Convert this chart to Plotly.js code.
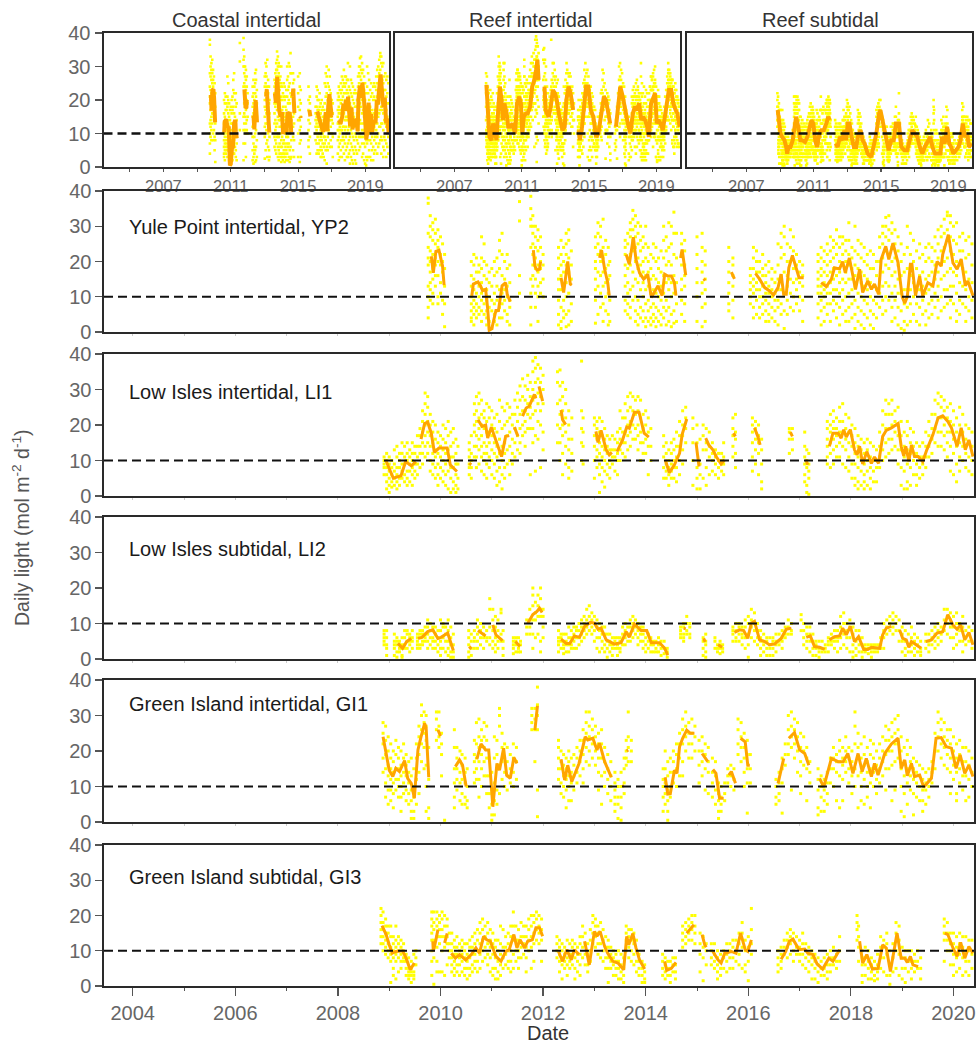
<!DOCTYPE html>
<html><head><meta charset="utf-8">
<script src="https://cdn.plot.ly/plotly-3.0.1.min.js"></script>
<style>html,body{margin:0;padding:0;background:#fff}</style></head>
<body><div id="chart" style="width:977px;height:1048px"></div>
<script>
// Each dot column: [decimal year, daily light values...]
const yp2Dots=[[2009.76,38,36.5,28,24,21,19,13,10,7,4],[2009.8,33,30,27,23,20,17,14,12,9],[2009.85,31,29,26,22,18,15,11,8],[2009.9,32,28,25,21,19,16,13],[2009.95,29,26,24,20,16,10,8],[2010.0,27,22,19,14,11],[2010.04,25,20,17,9,5],[2010.08,22,18,13,8,1.5],
[2010.6,20,16,13,10,8,6,4,3],[2010.65,22,19,15,12,9,7,5,2],[2010.7,21,17,14,11,8,6,4],[2010.75,19,17,13,10,7,5],[2010.8,27,21,18,14,11,9,6,3],[2010.85,25,20,16,12,8,5],[2010.9,19,15,12,9,6,4,2],[2010.95,17,14,10,7,3,1],[2011.0,18,13,9,6,1],[2011.05,20,16,11,8,5,3],[2011.1,21,17,13,9,6,2],[2011.15,26,23,18,12,7,4],[2011.2,28,22,16,11,8,4],[2011.25,20,15,12,9,6],[2011.3,22,18,13,10,5,3],[2011.35,19,14,9,7,2],
[2011.54,37,31.5,16,11],[2011.76,38.5,35,32,30,24,15,11,7,2],[2011.8,33,30,28,25,22,19,16,13],[2011.85,30,27,24,21,18,15,11,7],[2011.9,29,26,23,19,17,13,10,3],[2011.95,27,24,20,18,14,11],[2012.0,22,19,15,10],
[2012.3,24,21,18,15,12,9,5,2],[2012.35,26,22,19,16,12,7,3,1],[2012.4,24,20,17,13,9,6,4],[2012.45,28,25,22,19,14,10,5,1.5],[2012.5,29,26,21,17,11,6,2],[2012.55,23,19,15,8,3],
[2013.02,27,24,20,18,15,12,9,2.5],[2013.07,31,28,25,22,17,13,5],[2013.12,30,27,23,20,16,11,7],[2013.17,32,24,21,17,13,8,3],[2013.22,26,22,18,14,10,6],[2013.27,24,19,15,11,5,2],[2013.3,20,16,9,3],
[2013.6,26,24,22,19,16,13,9,6],[2013.65,28,25,21,18,14,11,8,5],[2013.7,31,29,27,22,19,12,7,4],[2013.75,34.5,32,29,26,23,17,13,9],[2013.8,33,30,27,24,20,15,10,6,3],[2013.85,31,28,25,21,18,14,9,5,2],[2013.9,30,26,23,19,16,12,7,4],[2013.95,27,24,20,17,14,10,6,3],[2014.0,30,25,21,16,12,8,4,1.5],[2014.05,24,20,17,13,9,6,3],[2014.1,22,18,15,11,7,4,2],[2014.15,25,21,16,12,8,5,3],[2014.2,24,20,15,11,7,4,1.5],[2014.25,21,18,14,10,6,3],[2014.3,23,17,13,9,5,2],[2014.35,30,26,21,16,11,7,4],[2014.4,27,23,19,14,9,6,2],[2014.45,31,24,20,15,12,7,3],[2014.5,30,25,19,14,10,5,1.5],[2014.55,34,28,22,16,11,6,2.5],[2014.6,28,21,14,8,3],
[2014.7,28,25,22,19,15,12,9,5],[2014.76,26,23,19,16,13,8,3],[2015.0,27,22,18,14,10,3],[2015.1,28,24,20,17,14,11,7,1.5],[2015.16,23,19,15,12,8,3],[2015.62,24,20,17,14,11,8,6],[2015.7,21,19,16,13,9,4],
[2016.04,18,16,14,12,10,8],[2016.1,24,21,18,15,13,11,7,4],[2016.16,23,20,17,14,12,9,5],[2016.22,20,17,15,12,10,7,4],[2016.28,22,18,16,13,10,8,5],[2016.34,19,16,14,11,9,6,3],[2016.4,20,17,13,11,8,5,3],[2016.46,18,15,12,10,7,4],[2016.52,17,14,11,9,6,3],[2016.58,25,19,15,12,9,7,2],[2016.64,28,24,21,16,12,8,5],[2016.7,30,27,22,17,11,6,1],[2016.76,25,20,16,13,9,5],[2016.82,29,24,20,15,11,7],[2016.88,27,23,18,14,10,6],[2016.94,22,19,15,12,8],[2017.0,20,17,14,10,6],[2017.06,19,16,13,9,3],
[2017.36,22,20,17,15,13,11,8,4],[2017.42,24,21,18,16,13,11,9,6,2],[2017.48,23,20,17,14,12,10,7,3],[2017.54,25,22,19,16,13,11,8,5],[2017.6,27,23,20,17,14,11,8,3],[2017.66,26,24,21,18,15,12,9,6],[2017.72,29,25,22,18,16,12,8,4],[2017.78,27,24,20,17,14,11,7,2],[2017.84,27,25,22,19,15,12,9,5],[2017.9,26,23,20,17,14,10,6,3],[2017.96,31,26,22,19,15,11,7,3],[2018.02,24,21,18,15,12,8,4],[2018.08,30,23,19,16,13,9,5,1],[2018.14,26,22,18,15,11,7,3],[2018.2,25,21,17,14,10,6,2],[2018.26,24,20,16,13,9,5,1],[2018.32,22,19,15,12,8,4],[2018.38,23,18,14,10,6,2],[2018.44,22,18,13,9,5,1],[2018.5,20,16,12,8,4],[2018.56,27,24,20,15,11,7],[2018.62,30,28,25,21,17,13,9,5],[2018.68,32.5,30,27,23,19,14,10,6],[2018.74,33,29,26,22,18,13,9],[2018.8,31,28,24,20,16,11,7,3],[2018.86,29,25,21,17,13,9,4],[2018.92,27,23,19,15,11,7,2],[2018.98,25,20,16,11,6,1],[2019.04,22,17,12,8,3,0.5],[2019.1,30,24,18,12,7,2],[2019.16,28,22,16,12,8,3],[2019.22,26,20,14,10,5],[2019.28,23,18,13,8,3],[2019.34,25,21,16,12,7,2],[2019.4,22,17,13,9,5],[2019.46,24,20,15,11,6,2],[2019.52,25,21,16,12,8,4],[2019.58,24,20,17,13,9,5],[2019.64,27,23,19,15,11,7],[2019.7,29,25,21,17,13,9,4],[2019.76,30,27,23,19,15,10,6],[2019.82,32,28,24,20,16,12,7],[2019.88,34,33,29,26,21,17,12,8],[2019.94,33,31,27,23,18,13,9,4],[2020.0,30,26,22,17,13,8],[2020.06,31,25,20,16,11,6,3],[2020.12,27,23,19,14,9,5],[2020.18,28,23,18,13,8],[2020.24,26,21,17,12,7,3],[2020.3,27,22,15,10,6],[2020.36,25,19,14,9,4]];

const li1Dots=[[2008.9,11,10,9,8,6],[2008.95,12,10,8,6,4,2],[2009.0,11,9,7,5,3,1],[2009.05,10,8,6,4,2.5],[2009.1,13,9,7,5,3],[2009.15,14,11,8,6,4,2],[2009.2,12,10,8,5,3],[2009.25,15,12,9,7,5],[2009.3,14,11,9,6,4],[2009.35,15,12,10,7,5,3],[2009.4,13,11,9,7,4],[2009.45,15,12,10,8,6,3],[2009.5,14,12,9,7,5],[2009.55,17,14,11,9,6],[2009.6,19,17,14,12,8],[2009.65,24,21,18,15,12,9],[2009.7,29,26,23,20,17,14,11],[2009.75,28,25,21,18,15,12],[2009.8,23,20,17,14,10,7],[2009.85,21,18,15,12,9,6],[2009.9,20,16,13,11,8,5],[2009.95,18,15,12,9,6,3],[2010.0,17,14,11,8,5],[2010.05,20,16,13,10,7,4],[2010.1,19,15,12,9,6,3],[2010.15,21,17,13,10,7,2],[2010.2,18,14,11,8,5,1],[2010.25,19,15,11,8,4,2],[2010.3,16,12,9,6,3,1],[2010.34,14,9,5,2],
[2010.56,15,13,11,9,8,6],[2010.6,17,12,10,8,5],[2010.66,26,23,20,18,14,11],[2010.7,28,24,21,17,14,11,8],[2010.75,29,26,22,19,16,13,9],[2010.8,27,23,20,17,14,11,7],[2010.85,24,22,19,15,12,10,6],[2010.9,26,21,18,14,12,9,5],[2010.95,25,22,18,15,11,8],[2011.0,24,20,17,13,10,6],[2011.05,22,19,15,12,9,5],[2011.1,23,18,14,11,7,3],[2011.15,27,21,16,12,8,4],[2011.2,25,19,14,10,6,2],[2011.25,24,20,15,12,8,5],[2011.3,26,21,17,13,9],[2011.35,25,22,18,14,10,6],[2011.4,23,20,16,12,9],[2011.45,27,23,19,15,11],[2011.5,29,25,21,17,13],[2011.55,31,27,23,19,15,12],[2011.6,33,28,24,20,17],[2011.65,31,27,24,21,18,14],[2011.7,34,30,26,23,19],[2011.75,32,28,25,22,19,6],[2011.8,38,35,30,27,23,19,15],[2011.85,39,36,32,28,24,17,7],[2011.9,37,33,29,26,21,16],[2011.95,36,32,28,24,20,8],[2012.0,34,30,26,18,13],
[2012.28,35,32,26,20,15],[2012.33,35.5,31,27,23,19,15,10],[2012.38,32,28,24,20,17,12,6],[2012.44,30,26,22,18,14,9],[2012.5,24,20,16,13,8,5],[2012.56,22,16,12,7],[2012.75,38,24,19,15,10],[2012.78,22,18,14,9],
[2013.0,22,20,17,14,10,5],[2013.05,21,19,16,13,11,8],[2013.1,22,18,15,12,9,6,1],[2013.15,21,17,14,11,8,4],[2013.2,19,16,13,10,7,2.5],[2013.25,17,14,12,9,6],[2013.3,16,13,10,8,5],[2013.35,17,13,11,9],[2013.4,16,13,11,7],[2013.45,18,15,12,10,6],[2013.5,24,19,16,13,10],[2013.55,22,18,15,12],[2013.6,26,22,18,15,11],[2013.65,28,24,20,17,13],[2013.7,29,25,21,18,14],[2013.75,28,24,20,16],[2013.8,27,23,19,16],[2013.85,28,24,20,17,13],[2013.9,27,22,18,15,10],[2013.95,23,19,15,12],[2014.0,24,20,16,12],[2014.05,22,18,14,6],[2014.1,19,14,10],
[2014.35,17,14,11,8,5],[2014.4,15,12,9,7,5],[2014.45,13,10,8,6,3],[2014.5,15,12,9,7,5],[2014.55,16,13,10,8,5],[2014.6,18,14,11,8,4],[2014.66,21,17,14,10,6],[2014.72,24,20,17,13,9],[2014.78,25,22,19,15],
[2014.92,22,19,15,10,3],[2015.0,20,15,8,5,2],[2015.06,16,9,6,2],[2015.12,20,17,13,5],[2015.18,19,15,13,8,3],[2015.24,18,14,11,6],[2015.3,15,12,10,7],[2015.36,13,11,9,6],[2015.42,12,10,8,5],[2015.48,12,10,9,7],[2015.52,15,11,9,6],[2015.7,22,19,17,14,11],[2015.75,23,18,16,12,8],
[2016.08,22,20,18,15,11,7],[2016.14,21,19,16,13,9],[2016.2,20,17,15,12,6],[2016.26,16,13,9,4,2],[2016.8,19,18,16,12],[2016.86,19,16,13],[2017.1,18,14,11,9,6,4],[2017.14,13,10,8,3,1],[2017.18,12,9,7,5,0.5],
[2017.54,21,19,16,14,11,9],[2017.6,23,20,18,15,12,8],[2017.66,24,21,19,16,13,9],[2017.72,22,19,17,14,11],[2017.78,25,21,18,15,11],[2017.84,26,21,18,14,9],[2017.9,23,19,16,13,8],[2017.96,22,18,15,11,7],[2018.02,20,17,14,9,5],[2018.08,19,15,12,9,5,3],[2018.14,17,14,11,8,4,2],[2018.2,16,13,10,7,3],[2018.26,15,12,9,6,4,2],[2018.32,16,13,10,7,3],[2018.38,15,11,8,5,2],[2018.44,14,10,7,4],[2018.5,13,10,8,4],[2018.56,18,14,11,8],[2018.62,24,20,16,13,10],[2018.68,27,23,19,15,11],[2018.74,26,23,19,16,12],[2018.8,27,23,20,16,13],[2018.86,24,21,18,14],[2018.92,25,20,17,13,9],[2018.98,21,17,13,8,3],[2019.04,18,14,11,7,2],[2019.1,21,17,13,9,4,2],[2019.16,19,15,12,8,3],[2019.22,18,14,10,6],[2019.28,15,12,9,6,3],[2019.34,14,11,8,5],[2019.4,15,11,9,6],[2019.46,18,14,11,8],[2019.52,21,17,14,11],[2019.58,23,19,16,12],[2019.64,27,23,19,15],[2019.7,29,26,22,18,14],[2019.76,28,25,22,18,14],[2019.82,27,24,20,17,13],[2019.88,25,22,18,15,11],[2019.94,26,21,18,14,7],[2020.0,24,20,16,12,6],[2020.06,22,18,14,9,4],[2020.12,25,20,15,11,7],[2020.18,23,18,14,10],[2020.24,20,16,12,8],[2020.3,19,15,11,7],[2020.36,18,14,10,6]];

const li2Dots=[[2008.9,8,7,6,5,4],[2008.95,8,6,4,3,1],[2009.1,7,5,4,3,1],[2009.15,6,5,4,2,0.5],[2009.2,5,4,3,2],[2009.25,6,4,3,1,0.5],[2009.3,8,6,4,3],[2009.35,8,7,5,3],[2009.4,7,6,5,4,2],[2009.45,8,6,5,3],[2009.55,7,6,5,4,3],[2009.6,8,7,6,4,3],[2009.65,8,7,5,4],[2009.7,9,7,6,5],[2009.75,11,9,7,5,3],[2009.8,10,8,6,4],[2009.85,9,8,6,5,3],[2009.9,9,7,5,3],[2009.95,8,6,4,2],[2010.0,11,8,5,3,1],[2010.05,10,9,6,3],[2010.1,9,7,5,2],[2010.15,11,8,5,3,1],[2010.2,9,6,4,2,0.5],[2010.25,7,4,2,0.5],
[2010.55,8,6,4,2,0.5],[2010.6,7,5,3,1],[2010.66,8,6,5,3],[2010.72,11,9,7,5,3],[2010.78,10,8,6,4],[2010.84,9,7,6,3],[2010.9,8,6,5],[2010.96,17,14,9,6,4],[2011.02,14,11,8,5,3],[2011.07,12,9,6,4,2],[2011.12,11,8,5,3],[2011.18,14,13,7,5],[2011.22,8,5,3,1],[2011.42,6,5,4,3,1.5],[2011.47,6,5,4,2],[2011.52,6,4,3,2],[2011.56,5,4,2],[2011.68,11,9,7],[2011.74,14,11,9,7],[2011.8,20,18,15,11,7,3],[2011.85,16,13,11,6],[2011.9,18,15,12,7],[2011.95,20,17,14,12,5,2],[2012.0,14,12,9,6],
[2012.3,8,6,5,4,2],[2012.35,7,6,5,3],[2012.4,7,5,4,3,1.5],[2012.45,7,5,4,2],[2012.5,9,6,4,2],[2012.55,8,6,4,3],[2012.6,9,7,5,3],[2012.65,9,8,6,3],[2012.7,10,8,6,4],[2012.75,11,9,7,5],[2012.8,12,10,8,6],[2012.85,14,11,9,7],[2012.9,15,12,10,8],[2012.95,13,11,9,7],[2013.0,12,10,8,5],[2013.05,11,9,6,3],[2013.1,10,8,6,2],[2013.15,9,7,5,3],[2013.2,9,7,4,2],[2013.25,7,5,3,0.5],[2013.3,7,5,4,2],[2013.35,6,4,3,1],[2013.4,6,5,3],[2013.45,6,4,3,1],[2013.5,6,5,3,2],[2013.55,9,7,4],[2013.6,10,8,6,4],[2013.65,9,7,5],[2013.7,11,9,7,5],[2013.75,12,10,8,6],[2013.8,11,9,7],[2013.85,10,8,6,4],[2013.9,9,7,5],[2013.95,9,7,5,3],[2014.0,8,6,4,2],[2014.05,7,5,3],[2014.1,6,4,2],[2014.15,5,4,2],[2014.2,5,3,2],[2014.25,6,4,2],[2014.3,5,3,1],[2014.36,5,3,1.5],[2014.42,3,2,0.5],
[2014.68,9,8,7,6],[2014.74,10,9,7,6,5],[2014.8,12,10,8,7],[2014.86,10,9,7,6],[2015.12,6,5,3,1],[2015.17,7,5,4,2,0.5],[2015.35,6,5,3],[2015.4,4,3,2],[2015.45,5,4,3,1.5],[2015.5,4,3,2],
[2015.7,9,8,7,5],[2015.76,10,8,6,5],[2015.82,10,9,7,5],[2015.88,9,7,6,4],[2015.94,11,9,6,3],[2016.0,12,10,7,4,0.5],[2016.06,14,11,9,6],[2016.12,13,10,8,5],[2016.18,10,8,6,4],[2016.24,8,6,5,3,1],[2016.3,7,5,4,2],[2016.36,6,5,3,1],[2016.42,6,4,3,1],[2016.48,6,5,3,1],[2016.54,7,5,4,2],[2016.6,7,5,4],[2016.66,8,6,5,3],[2016.72,9,7,6],[2016.78,11,9,7],[2016.84,10,8,7],
[2017.03,12.5,11,8],[2017.08,10,8,6,4],[2017.14,9,7,5,3],[2017.2,9,7,5,2],[2017.26,7,5,3,1],[2017.32,5,4,3,1],[2017.38,5,3,2,0.5],[2017.44,5,3,2],[2017.5,4,3,2],[2017.56,6,5,4,2],[2017.62,7,5,4],[2017.68,8,6,5,3],[2017.74,8,6,5,2],[2017.8,12,9,6,3],[2017.86,13,10,7,4],[2017.92,10,8,6,3],[2017.98,11,9,6,2],[2018.04,9,7,4,2,0.5],[2018.1,8,5,3,1],[2018.16,8,6,4,2],[2018.22,6,4,2,0.5],[2018.28,4,3,2],[2018.34,4,3,1.5],[2018.4,4,3,2,0.5],[2018.46,4,3,2],[2018.52,4,3,2],[2018.58,6,4,3],[2018.64,10,8,6,3],[2018.7,11,9,7],[2018.76,12,10,8],[2018.82,13,11,9,7],[2018.88,12,10,8],[2018.94,11,8,5],[2019.0,9,7,5,2],[2019.06,8,5,3,1],[2019.12,7,4,2],[2019.18,9,6,4,2],[2019.24,7,5,3,1],[2019.3,6,4,2],[2019.36,5,3,2,1],[2019.46,7,5,3],[2019.52,7,5,4,2],[2019.58,8,6,4],[2019.64,9,7,5,3],[2019.7,10,8,6,4],[2019.76,9,7,5],[2019.82,14,11,8],[2019.88,14,12,10,7],[2019.94,13,11,9,6],[2020.0,12,9,6,3],[2020.06,13,10,7,4],[2020.12,10,8,5],[2020.18,12,9,5,2],[2020.24,8,6,4],[2020.3,9,7,5],[2020.36,8,5,3]];

const gi1Dots=[[2008.88,28,25,22,18,14],[2008.93,27,23,19,15,11,7],[2008.98,24,20,16,13,9,5],[2009.03,22,18,15,12,9,6],[2009.08,20,17,14,11,8,4],[2009.13,23,19,15,12,9],[2009.18,21,18,15,12,10,7],[2009.23,20,16,13,10,7,3],[2009.28,22,18,14,11,8],[2009.33,19,16,13,9,6],[2009.38,17,14,11,8,5],[2009.43,18,13,9,6,3,1],[2009.48,15,10,7,3,1],[2009.53,22,18,12,5],[2009.58,27,24,19,14,8],[2009.63,33,30,26,22,17],[2009.68,31,28,25,21,15],[2009.72,30,27,23,16,10,3],[2009.77,21,12,4,1],[2009.92,31,29,26,23],[2009.97,31,27,24,21],[2010.02,25,22,19,13],[2010.08,0.5],[2010.27,26,21,15,11,7,4],[2010.32,21,18,15,12,9],[2010.38,20,17,14,11,6],[2010.42,19,16,12,8,5],[2010.48,18,14,11,7,5],[2010.52,15,10,6,4],
[2010.66,23,19,17,14,11],[2010.7,28,22,18,15,12],[2010.75,29,24,21,17,12,7],[2010.8,26,23,19,15,10],[2010.85,28,24,21,17,13],[2010.9,27,23,18,13,8],[2010.95,18,13,8,4],[2011.0,14,9,5,2,0.5],[2011.05,24,18,11,6,2],[2011.1,23,19,15,9,5],[2011.15,32,30,27,16,8],[2011.2,25,21,17,12],[2011.25,22,18,14,10],[2011.3,21,17,13,9],[2011.36,19,15,11],[2011.42,22,18,14,10],[2011.48,21,17,12],
[2011.78,32,30,28,26],[2011.84,32,29,26,17],[2011.89,38,33,30,26,9,1.5],
[2012.3,23,21,18,15,12],[2012.35,20,17,15,11,8],[2012.4,19,16,13,10,7],[2012.45,18,15,12,9,4],[2012.5,20,17,13,10,6],[2012.55,18,14,11,6],[2012.6,19,16,13,9],[2012.66,21,18,14,11],[2012.72,23,20,17,13],[2012.78,26,23,19,15,11],[2012.84,31,28,25,21,17],[2012.9,31,27,24,20,16],[2012.96,29,26,22,18],[2013.02,27,24,20,16],[2013.08,25,22,18,14,9],[2013.14,26,22,18,13,5],[2013.2,21,17,14,10],[2013.26,19,15,12,8],[2013.32,17,13,10,6],
[2013.4,14,11,9,7,5,3],[2013.46,12,10,7,5,1],[2013.52,14,10,7,4,0.5],[2013.58,18,15,11,8],[2013.62,23,20,18,16],[2013.66,31,24,21,17],[2013.72,23,20,17],[2014.34,15,12,10,7,3],[2014.38,20,15,11,8,5],[2014.43,17,13,9,6,3,0.5],[2014.48,18,14,10,7],[2014.54,20,17,14,11],[2014.6,22,19,15,10],[2014.66,25,22,18,13],[2014.72,29,26,22,17,13],[2014.78,31,27,24,20],[2014.84,28,25,22,18],[2014.9,29,25,22,18],[2014.96,27,24,20],
[2015.04,23,20,16,11],[2015.1,24,20,17,13],[2015.16,22,19,15,9],[2015.22,21,17,14,8],[2015.3,18,14,11,7],[2015.36,17,13,9,5],[2015.42,11,8,6,3,1],[2015.47,10,7,5,3],[2015.54,11,8,6],[2015.6,15,13,11],[2015.66,16,13,10],[2015.72,15,12,9],[2015.8,29,26,22,19],[2015.86,28,24,21,17],[2015.92,25,21,18,14,10],[2015.98,23,19,15,11,2.5],[2016.04,19,15,11],
[2016.54,12,10,7,5],[2016.6,14,11,8,6],[2016.66,18,15,11,2.5],[2016.72,22,19,16],[2016.78,30,26,22,19],[2016.84,31,27,24,21,9],[2016.9,29,26,22,18],[2016.96,28,24,20,14],[2017.02,25,21,17,13,8],[2017.08,24,20,16],[2017.14,21,18,15,6],[2017.2,17,14,11],[2017.36,15,12,9,4,2],[2017.42,13,10,7,3],[2017.48,12,9,6,3],[2017.54,14,11,8,5],[2017.6,18,15,11],[2017.66,21,18,15,10],[2017.72,19,17,14,6],[2017.78,23,20,17,13,4],[2017.84,21,18,16,12,6],[2017.9,24,20,17,14],[2017.96,21,18,15,11],[2018.02,20,17,13,8],[2018.08,31,27,22,15,10],[2018.14,25,21,18,13,4],[2018.2,22,18,14,10,6],[2018.26,24,19,16,12,5],[2018.32,21,17,14,10,7],[2018.38,23,19,15,11,4],[2018.44,22,18,14,10],[2018.5,20,16,12,8],[2018.56,22,18,15,11],[2018.62,24,20,17,13],[2018.68,27,23,19,15,9],[2018.74,26,23,20,15],[2018.8,28,24,20,16,6],[2018.86,29,25,22,17,9],[2018.92,30,26,22,18],[2018.98,24,20,15,10,3],[2019.04,21,17,13,8,1.5],[2019.1,23,19,15,11,5],[2019.16,21,17,13,9],[2019.22,18,15,12,8,2],[2019.28,17,14,11,7],[2019.34,16,13,10,6],[2019.4,15,12,9,6,3],[2019.46,14,11,9,5],[2019.52,15,12,10,7],[2019.58,17,14,11],[2019.64,25,20,15],[2019.7,31,28,24,20],[2019.76,29,26,22,18],[2019.82,28,24,21,16],[2019.88,26,23,19,15],[2019.94,26,22,18,14,8],[2020.0,24,20,16,12],[2020.06,22,18,14,8,6],[2020.12,23,19,15,11],[2020.18,21,17,13,9],[2020.24,21,17,13,6],[2020.3,20,16,12,7],[2020.36,18,14,10]];

const gi3Dots=[[2008.84,22,20,18,16,14,12],[2008.88,21,18,16,14,12,10],[2008.93,19,17,15,13,11,9],[2008.98,17,15,12,10,8],[2009.03,17,14,11,9,7,1],[2009.08,14,12,10,8,5,3],[2009.13,17,13,11,9,7,2],[2009.18,14,12,10,8,4],[2009.23,13,11,9,7,5],[2009.28,12,10,8,7],[2009.33,9,7,5,3],[2009.38,8,5,4,3,2],[2009.43,7,5,4,3,1],[2009.48,9,6,4,3,2],[2009.52,10,8,6],
[2009.83,21,19,17,15,13,10,7,3],[2009.87,21,18,16,13,11,8,0.5],[2009.93,21,19,17,14,11,7,4],[2009.98,20,18,16,14,12,4],[2010.03,21,19,16,14,10,4],[2010.08,20,17,14,11,3],[2010.13,19,17,14,12,6],[2010.17,15,12,10,8],[2010.22,15,12,10,8,6,4],[2010.27,13,11,9,7,5,3],[2010.32,14,11,9,6,4],[2010.37,12,10,8,6,3],[2010.42,13,11,9,7,4],[2010.47,12,10,8,5,3],[2010.52,12,9,7,5,2],[2010.57,13,11,8,5,3],[2010.62,14,11,9,6,4],[2010.67,15,12,9,7,5],[2010.72,16,13,10,7,4],[2010.77,18,15,12,9,5],[2010.82,19,16,13,10,7],[2010.87,17,14,11,8],[2010.92,18,15,12,9,6],[2010.97,16,13,11,8,4],[2011.02,15,12,9,5,3],[2011.07,13,11,8,5,2],[2011.12,13,10,7,4,2],[2011.17,17,12,9,6,3],[2011.22,16,11,8,5],[2011.27,14,11,9,6],[2011.32,15,12,10,7,5],[2011.37,17,14,10,7,4],[2011.42,21,17,13,9,5],[2011.47,17,13,10,7],[2011.52,16,13,10,8,5],[2011.57,18,14,11,8],[2011.62,17,14,12,9],[2011.67,17,14,11,8,4],[2011.72,19,16,13,10],[2011.77,20,17,14,11,5],[2011.82,20,18,15,12,7],[2011.87,21,19,16,13],[2011.92,20,17,15,12],[2011.97,19,16,13,7],
[2012.27,14,12,10,8],[2012.32,13,11,9,7,4],[2012.37,12,10,8,6,2],[2012.42,11,9,7,5],[2012.47,13,10,8,6,3],[2012.52,12,9,7,5],[2012.57,13,11,9,6],[2012.62,12,10,8,5,2],[2012.67,11,9,7,4],[2012.72,14,12,9,6,3],[2012.77,17,14,11,8],[2012.82,15,12,9,6],[2012.87,12,9,6,4],[2012.92,16,13,10,7],[2012.97,20,18,15,12],[2013.02,19,17,14,11],[2013.07,17,15,12,9],[2013.12,18,15,12,8],[2013.17,16,13,10,7],[2013.22,14,11,8,5],[2013.27,13,11,8,5,1],[2013.32,11,9,7,5],[2013.37,10,8,6,3],[2013.42,9,7,5,3],[2013.47,10,7,5,2],[2013.52,9,6,4,2],[2013.57,8,5,3,1],[2013.62,17,15,13,10],[2013.67,16,14,11,8],[2013.72,16,13,10,7],[2013.77,15,12,9,6],[2013.82,13,10,7,4],[2013.87,9,7,5,3],[2013.93,7,5,3,1],[2013.98,6,4,2,1],
[2014.33,9,7,5,3],[2014.38,8,6,4,2],[2014.43,7,5,3],[2014.48,7,5,3,1],[2014.53,8,6,4],[2014.58,8,6,4,2],[2014.72,17,15,13,11],[2014.78,18,16,14,12],[2014.84,19,17,15,13],[2014.9,20,18,16,13],[2014.96,20,17,15,12],[2015.06,15,12,9,4],[2015.12,14,11,8,1.5],[2015.18,12,10,6],[2015.28,12,10,8,6],[2015.34,12,9,7,5],[2015.4,10,8,6,4,2],[2015.46,9,7,5,3],[2015.52,10,8,5],[2015.58,12,9,7,4],[2015.64,12,10,8,5],[2015.7,13,11,8,5],[2015.76,13,10,7],[2015.82,15,12,9,6],[2015.88,18,15,11,5],[2015.94,13,10,6,4],[2016.0,14,11,7,1.5],[2016.06,22,16,12,9],
[2016.58,10,8,6,4],[2016.64,11,9,7,5],[2016.7,13,11,9],[2016.76,15,13,11,8],[2016.82,16,14,12,9],[2016.88,15,13,10,7],[2016.94,14,11,9],[2017.0,13,11,9,7],[2017.06,15,12,9,6],[2017.12,12,10,8,5],[2017.18,11,9,7,4],[2017.24,10,8,6,2],[2017.3,9,7,5,2],[2017.36,8,6,4,1],[2017.42,7,5,3],[2017.48,8,5,3],[2017.54,9,6,4,2],[2017.6,10,8,6,4],[2017.66,11,8,6],[2017.72,9,7,5],[2017.78,14,10,7],
[2018.12,20,18,16,13],[2018.15,17,14,11,7],[2018.22,10,8,6,3,1],[2018.28,11,8,6,3],[2018.34,10,7,5,2],[2018.4,8,6,4,2],[2018.46,7,5,3,1.5],[2018.52,9,6,4,2],[2018.58,14,11,8,5],[2018.64,13,11,8,4],[2018.7,15,12,9,3],[2018.76,10,6,3,0.5],[2018.82,12,8,4],[2018.88,18,15,10,5],[2018.94,17,13,9,3],[2019.0,11,8,5,2],[2019.06,10,8,5,1],[2019.12,10,7,4],[2019.18,10,7,5,2],[2019.24,9,7,4],[2019.3,10,7,5],[2019.36,8,5,2],
[2019.82,19,17,15,13,7],[2019.88,18,15,13,10],[2019.94,15,12,10,6],[2020.0,15,12,9,6,3],[2020.06,14,11,8,4],[2020.12,15,12,9,5],[2020.18,14,11,8,3],[2020.24,14,10,7,4],[2020.3,13,10,7,3],[2020.36,13,9,5]];

// Monthly running means: years and light values, null marks a gap
const yp2Year=[2009.82,2009.86,2009.91,2009.97,2010.01,2010.04,2010.07,null,2010.61,2010.64,2010.73,2010.78,2010.82,2010.88,2010.92,2010.95,2011.0,2011.08,2011.13,2011.2,2011.27,2011.3,2011.36,null,2011.81,2011.84,2011.88,2011.93,2011.95,null,2012.35,2012.4,2012.48,2012.53,2012.56,null,2013.1,2013.14,2013.2,2013.26,2013.29,null,2013.62,2013.68,2013.76,2013.81,2013.88,2013.96,2013.99,2014.04,2014.11,2014.24,2014.32,2014.37,2014.43,2014.5,2014.56,2014.59,null,2014.68,2014.71,2014.78,null,2015.13,2015.16,null,2015.67,2015.73,null,2016.14,2016.22,2016.32,2016.41,2016.49,2016.58,2016.64,2016.69,2016.74,2016.79,2016.86,2016.92,2016.99,2017.08,null,2017.42,2017.52,2017.62,2017.68,2017.78,2017.84,2017.89,2017.97,2018.04,2018.09,2018.17,2018.23,2018.33,2018.4,2018.46,2018.54,2018.59,2018.68,2018.74,2018.82,2018.92,2019.0,2019.05,2019.1,2019.16,2019.19,2019.26,2019.34,2019.4,2019.5,2019.6,2019.68,2019.76,2019.79,2019.9,2019.99,2020.07,2020.15,2020.23,2020.28,2020.38];
const yp2Mean=[21.5,16.8,22.9,23.2,20.6,18.7,13.3,null,10.3,13.6,14.2,13.1,11.7,12.1,6.5,0.5,0.9,6.1,6.1,13.1,14,10.7,8.6,null,23.2,18.7,17.6,17.8,20,null,15.4,11.2,20,13.6,13.3,null,21,23.2,17.8,14,10.3,null,22,19.2,26.9,20.6,16.8,15,15.4,16.4,9.8,13.1,10.3,16.4,15.9,15.9,14,10.3,null,21,23.4,16.1,null,15.1,14.6,null,17,15.1,null,16.6,15,12.6,11.7,10.5,12.6,16.4,10.7,10.7,18.2,21.7,18.7,15.4,15.4,null,14,12.9,15,18.2,17.9,20,16.8,21,15.9,12.1,17.8,11.2,14.5,12.1,13.6,10.7,20.6,24.3,20.6,25.2,19.6,10,8.2,10,19.2,19.2,10.3,15.9,10.3,14,13.1,20,18.7,22,27.6,19.6,17.8,20.7,13.1,14.5,10.3];

const li1Year=[2008.93,2009.0,2009.08,2009.23,2009.32,2009.43,2009.52,null,2009.62,2009.69,2009.75,2009.82,2009.88,2009.97,2010.05,2010.13,2010.19,2010.32,null,2010.56,2010.6,null,2010.73,2010.81,2010.88,2010.92,2010.99,2011.12,2011.19,2011.27,2011.34,null,2011.44,2011.51,null,2011.6,2011.67,2011.73,2011.83,2011.86,null,2011.92,2011.99,null,2012.35,2012.38,2012.44,null,2013.03,2013.07,2013.13,2013.23,2013.29,2013.34,null,2013.44,2013.55,2013.63,2013.68,2013.78,2013.87,2013.97,2014.06,null,2014.38,2014.46,2014.56,2014.66,2014.71,2014.8,null,2014.98,2015.04,null,2015.17,2015.23,2015.31,2015.38,2015.47,2015.54,null,2015.71,2015.75,null,2016.12,2016.19,2016.23,null,2016.82,2016.86,null,2017.12,2017.16,null,2017.58,2017.65,2017.75,2017.81,2017.86,2017.91,2017.99,2018.07,2018.12,2018.17,2018.23,2018.31,2018.4,2018.46,2018.54,2018.62,2018.69,2018.79,2018.92,2018.98,2019.03,2019.07,2019.13,2019.18,2019.24,2019.31,2019.4,2019.48,2019.6,2019.7,2019.79,2019.89,2019.96,2020.07,2020.15,2020.23,2020.3,2020.38];
const li1Mean=[10.2,7.8,5,5.7,9.7,8.5,9.7,null,16,20.4,20.8,17.7,12.3,13.5,13.5,13.5,8.8,6.9,null,9.2,8.8,null,21.5,19.6,20,16.3,19.4,14,11.1,16.8,17,null,19.4,16.8,null,22.5,24.8,25.3,28.6,27.5,null,30.9,26.7,null,24.2,21.5,20.1,null,18.2,15.1,18.5,13,11.6,12.3,null,12.5,15.8,19.4,19.1,23.6,23.6,17.7,16.6,null,10.2,6.6,8.8,12,17.3,21.7,null,15.1,8.3,null,16.3,14.4,13,11,9,10.2,null,17.7,16.8,null,19.2,16.6,14.4,null,18,16.8,null,10.2,8.8,null,14,17.7,17.7,16.3,18.7,16.6,18.7,13,11.6,14,9,12.5,9.2,11,9.2,16.8,18.5,19.2,20.4,14,11.3,14,9.7,14.4,11.1,11.1,9.7,13,17.3,22,22.6,21,19.2,14,19.2,13,15.8,11.1];

const li2Year=[2009.17,2009.26,2009.34,2009.43,null,2009.56,2009.64,2009.75,2009.85,2009.95,2010.01,2010.14,2010.21,2010.25,null,2010.56,2010.6,null,2010.73,2010.88,null,2011.02,2011.08,2011.21,null,2011.46,2011.55,null,2011.7,2011.8,2011.88,2011.93,2011.98,null,2012.35,2012.45,2012.52,2012.61,2012.71,2012.81,2012.92,2013.0,2013.07,2013.13,2013.23,2013.29,2013.39,2013.52,2013.62,2013.68,2013.78,2013.91,2014.02,2014.11,2014.27,2014.37,2014.43,null,2014.74,2014.78,null,2015.13,2015.16,null,2015.41,2015.49,null,2015.73,2015.83,2015.91,2015.99,2016.06,2016.12,2016.22,2016.32,2016.41,2016.51,2016.64,2016.74,2016.84,null,2017.13,2017.21,2017.29,2017.39,2017.49,null,2017.58,2017.68,2017.78,2017.84,2017.91,2017.99,2018.07,2018.15,2018.25,2018.33,2018.4,2018.56,2018.62,2018.69,2018.79,null,2018.95,2019.01,2019.08,2019.13,2019.18,2019.27,2019.37,null,2019.46,2019.57,2019.68,2019.79,2019.89,2019.99,2020.07,2020.14,2020.22,2020.3,2020.38];
const li2Mean=[4.4,3,4.9,5.8,null,5.8,6.1,7.7,8.2,5.8,6.1,7.3,4.4,2.4,null,3.5,2.8,null,8,6.5,null,9.6,6.8,5.2,null,4.9,3.5,null,10,12.5,13.4,14.3,13.1,null,5.6,4.4,4.4,6.5,6.1,9.2,10.3,10.1,8.4,8.7,5.4,4.9,4.2,4.6,7.7,6.1,9.9,8,8,4.6,4.6,3,1.1,null,8.7,8.5,null,5.8,4.8,null,4,3.3,null,7.5,8.2,8,5.8,10.1,10.6,5.4,4.9,4,4.2,5.8,8.4,8.7,null,6.1,6.5,3.5,3.3,2.7,null,5.4,6.3,6.5,8.7,6.8,9.2,4.9,6.3,2.7,2.7,3.3,3,6.8,8.7,9.2,null,8.2,5.8,5.4,3.3,4.9,4,3,null,4.9,5.4,7.3,7.7,12.5,9.6,8.4,9.6,5.4,7.5,4];

const gi1Year=[2008.88,2008.94,2009.0,2009.07,2009.13,2009.2,2009.3,2009.36,2009.43,2009.49,2009.56,2009.62,2009.69,2009.72,2009.77,null,2009.95,2010.0,null,2010.29,2010.37,2010.43,2010.5,null,2010.71,2010.79,2010.88,2010.94,2011.02,2011.1,2011.15,2011.23,2011.29,2011.36,2011.43,2011.49,null,2011.84,2011.89,null,2012.35,2012.42,2012.48,2012.56,2012.7,2012.82,2012.87,2012.97,2013.05,2013.1,2013.2,2013.33,null,2013.55,2013.58,null,2013.63,2013.66,null,2014.38,2014.43,2014.48,2014.56,2014.61,2014.66,2014.72,2014.8,2014.87,2014.95,null,2015.1,2015.15,2015.21,null,2015.31,2015.37,2015.44,2015.52,null,2015.62,2015.67,2015.75,null,2015.85,2015.94,2015.99,2016.03,null,2016.58,2016.69,null,2016.79,2016.9,2017.0,2017.1,2017.18,null,2017.39,2017.47,2017.62,2017.75,2017.85,2017.94,2018.04,2018.14,2018.22,2018.3,2018.4,2018.46,2018.53,2018.66,2018.79,2018.92,2018.98,2019.05,2019.1,2019.18,2019.24,2019.34,2019.42,2019.57,2019.66,2019.76,2019.86,2019.96,2020.05,2020.13,2020.22,2020.3,2020.38];
const gi1Mean=[24,19.8,14.6,12.8,15.1,14.2,17.3,12.3,10.9,6.7,20.3,24,27.8,26.5,12.6,null,26,24.2,null,15.6,17.5,16,10,null,17.7,22,20.3,20.3,4.3,16.5,14.6,20.8,13.2,12.3,18.2,16.5,null,25.9,32.7,null,17.7,11.8,16,11.4,16.5,24,23.1,23.6,20.3,22.2,17,12.6,null,10,10.3,null,20,20.3,null,12.6,7.9,8,14.6,13.7,21.2,23.6,25.9,25,25,null,19.3,18.2,17,null,14.8,13.7,6.7,6.7,null,13.2,14.2,10.9,null,23.6,22.6,16,16,null,10.9,17.9,null,23.6,25.2,20.3,19.3,16,null,12.3,9.8,17.9,17,17,19.3,13.7,19.3,14.2,17.9,12.8,16.5,13.2,19.3,22,23.6,15.1,17.5,13,16.5,12.8,13.2,9.8,12.3,23.6,23.8,21.2,20.8,15.1,18.9,13.7,16,12.8];

const gi3Year=[2008.86,2008.94,2009.0,2009.06,2009.13,2009.26,2009.33,2009.41,2009.49,null,2009.85,2009.86,2009.91,2009.95,null,2010.08,2010.13,null,2010.21,2010.29,2010.37,2010.49,2010.6,2010.69,2010.76,2010.84,2010.9,2010.97,2011.08,2011.18,2011.27,2011.34,2011.43,2011.49,2011.55,2011.64,2011.7,2011.79,2011.86,2011.93,2011.99,null,2012.3,2012.38,2012.46,2012.55,2012.61,2012.7,null,2012.81,2012.9,2013.0,2013.05,2013.11,2013.2,2013.26,2013.36,2013.46,2013.57,2013.63,2013.67,2013.75,2013.81,2013.88,2013.98,null,2014.37,2014.41,2014.5,2014.59,null,2014.8,2014.89,2014.94,null,2015.1,2015.15,2015.18,null,2015.31,2015.41,2015.47,2015.54,2015.67,2015.76,2015.85,2015.94,2015.99,2016.06,null,2016.64,2016.73,2016.8,2016.87,2016.99,2017.1,2017.16,2017.26,2017.34,2017.45,2017.57,2017.65,2017.78,null,2018.17,2018.23,2018.31,2018.42,2018.53,2018.62,2018.69,2018.77,2018.9,2018.98,2019.05,2019.1,2019.16,2019.21,2019.31,null,2019.83,2019.89,2019.99,2020.07,2020.14,2020.22,2020.3,2020.38];
const gi3Mean=[17.1,14.6,11.7,9.3,9.8,10,7.9,4.6,6.5,null,12.7,9.8,13.1,16,null,12.2,14.9,null,9.3,7.9,8.9,7.4,8.9,10.8,9.3,14.1,13.1,12.7,8.4,7,9.8,10.3,14.6,10.8,13.1,10.8,12.7,13.1,16.5,16.5,14.1,null,9.8,7,10.3,7.4,10.3,8.9,null,12.7,6,15.5,14.1,15.5,11.2,9.3,7,6.5,4.6,14.1,11.7,14.9,10.8,7.4,4.8,null,7,4.4,5,6.7,null,15,16.5,17.4,null,14.6,11.7,11,null,9.8,7.4,6.5,9.3,9.8,9.3,15,10.3,9.8,13.1,null,7.6,9.8,12.7,13.3,10.3,10.5,9.3,8.9,6.3,4.8,7.9,7,10.3,null,12.7,6.5,8.9,4.8,5,11.7,10.8,4.1,15,7.9,7.9,6.7,8.4,6,5.5,null,15,14.6,10.8,8.4,12.4,7.9,11.2,9.3];

const reefIntYear=[2008.9,2009.0,2009.08,2009.2,2009.3,2009.42,2009.5,2009.6,2009.7,2009.8,2009.88,2009.97,2010.1,2010.2,2010.32,2010.45,2010.6,2010.72,2010.85,2010.95,2011.03,2011.12,2011.25,2011.35,2011.5,2011.62,2011.75,2011.85,2011.93,2012.0,null,2012.35,2012.42,2012.5,2012.6,2012.72,2012.85,2012.97,2013.08,2013.2,2013.3,2013.42,2013.55,2013.65,2013.78,2013.9,2014.05,null,2014.38,2014.45,2014.58,2014.7,2014.82,2014.95,2015.1,2015.25,2015.42,2015.55,2015.72,2015.88,2016.0,2016.15,2016.25,null,2016.6,2016.72,2016.85,2017.0,2017.12,2017.3,2017.45,2017.6,2017.72,2017.85,2017.97,2018.1,2018.2,2018.33,2018.45,2018.55,2018.68,2018.8,2018.92,2019.02,2019.12,2019.24,2019.38,2019.5,2019.62,2019.74,2019.88,2020.0,2020.14,2020.24,2020.38];
const reefIntMean=[24.5,15,9,8,13,10,8,17,24,20,14,19,16,12,12,13,10,19,21,19,10,15,16,16,18,24,26,29,32,26,null,24,17,16,15,18,23,22,20,16,13,11,12,20,24,22,17,null,11,8,12,18,24,24,17,15,9,10,16,21,20,16,13,null,12,18,24,21,17,13,10,16,18,17,19,14,15,14,12,9,19,21,22,13,14,13,11,15,20,23,23,19,17,16,12];
const reefSubYear=[2008.86,2008.94,2009.02,2009.12,2009.26,2009.36,2009.42,2009.5,2009.62,2009.75,2009.86,2009.95,2010.08,2010.2,2010.32,2010.48,2010.62,2010.74,2010.86,2010.97,2011.1,2011.2,2011.34,2011.45,2011.6,2011.75,2011.86,2011.95,null,2012.3,2012.42,2012.55,2012.7,2012.82,2012.92,2013.02,2013.12,2013.25,2013.38,2013.52,2013.62,2013.78,2013.9,2014.02,2014.2,2014.42,2014.55,2014.72,2014.88,2014.96,2015.12,2015.3,2015.45,2015.6,2015.75,2015.88,2016.06,2016.2,2016.38,2016.55,2016.7,2016.85,2017.0,2017.15,2017.3,2017.45,2017.6,2017.78,2017.92,2018.05,2018.2,2018.35,2018.52,2018.62,2018.78,2018.92,2019.05,2019.15,2019.3,2019.45,2019.6,2019.72,2019.85,2019.98,2020.12,2020.22,2020.38];
const reefSubMean=[17,14,10,9,8,6,4,6,6,8,12,15,12,8,8,7.5,9,11,14,13,7.5,6,10,11,11,13,15,14,null,7,6,9,8,11,8,13,13,9,6,6,9,11,8,7,4,3,6,10,16,17,13,8,5,8,8,13,13,6,5,5,8,11,10,9,6,4,6,8,9,6,4,4,4,9,7,12,7,6,4,5,6,8,13,9,10,6,7];

const panelNames=["Coastal intertidal","Reef intertidal","Reef subtidal"];
const siteLabels=["Yule Point intertidal, YP2","Low Isles intertidal, LI1","Low Isles subtidal, LI2","Green Island intertidal, GI1","Green Island subtidal, GI3"];
const yTicks=[0,10,20,30,40];
const xTicksTop=[2007,2011,2015,2019];
const xTicksBottom=[2004,2006,2008,2010,2012,2014,2016,2018,2020];
const threshold=10;
const xRange=[2003.44,2020.4];

const W=977,H=1048;
const fx=p=>p/W, fy=p=>1-p/H;
function flat(cols){const x=[],y=[];cols.forEach(c=>{for(let i=1;i<c.length;i++){x.push(c[0]);y.push(c[i]);}});return{x,y};}
const panels=[
 {px:[103.5,389],py:[33,167],dots:[yp2Dots],lx:yp2Year,ly:yp2Mean,top:true,ylab:true,lw:4,dw:2.4},
 {px:[394.5,680],py:[33,167],dots:[li1Dots,gi1Dots],lx:reefIntYear,ly:reefIntMean,top:true,ylab:false,lw:4,dw:2.4},
 {px:[686.5,972],py:[33,167],dots:[li2Dots,gi3Dots],lx:reefSubYear,ly:reefSubMean,top:true,ylab:false,lw:4,dw:2.4},
 {px:[104,974],py:[191,332],dots:[yp2Dots],lx:yp2Year,ly:yp2Mean,lab:0,labY:227},
 {px:[104,974],py:[354,496],dots:[li1Dots],lx:li1Year,ly:li1Mean,lab:1,labY:392},
 {px:[104,974],py:[517,659],dots:[li2Dots],lx:li2Year,ly:li2Mean,lab:2,labY:549},
 {px:[104,974],py:[680,822],dots:[gi1Dots],lx:gi1Year,ly:gi1Mean,lab:3,labY:704},
 {px:[104,974],py:[845,986],dots:[gi3Dots],lx:gi3Year,ly:gi3Mean,lab:4,labY:877,bottom:true}
];
const dark='#2a2a2a',gray='#666666';
const traces=[],layout={width:W,height:H,autosize:false,margin:{l:0,r:0,t:0,b:0},paper_bgcolor:'#fff',plot_bgcolor:'#fff',showlegend:false,annotations:[],font:{family:'"Liberation Sans",Arial,sans-serif'}};
panels.forEach((p,i)=>{
  const n=i===0?'':String(i+1),xa='x'+n,ya='y'+n;
  const xa0={domain:[fx(p.px[0]),fx(p.px[1])],range:xRange,anchor:ya,showgrid:false,zeroline:false,showline:true,mirror:true,linecolor:dark,linewidth:p.top?2:1.6};
  if(p.top||p.bottom){
    const tv=p.top?xTicksTop:xTicksBottom;
    Object.assign(xa0,{tickmode:'array',tickvals:tv,ticktext:tv.map(String),ticks:'outside',ticklen:p.top?3:8,tickwidth:1.2,tickcolor:'#555',showticklabels:true,tickfont:{size:p.top?16.5:20,color:gray},
      minor:{ticks:'outside',ticklen:3,tickwidth:1,tickcolor:'#555',tickmode:'linear',tick0:2005,dtick:p.top?4:2,showgrid:false}});
  }else{
    Object.assign(xa0,{tickmode:'linear',tick0:2004,dtick:1,ticks:'outside',ticklen:2,tickwidth:1,tickcolor:'#cccccc',showticklabels:false});
  }
  layout['xaxis'+n]=xa0;
  const showY=!p.top||p.ylab;
  layout['yaxis'+n]={domain:[fy(p.py[1]),fy(p.py[0])],range:[0,40],anchor:xa,showgrid:false,zeroline:false,showline:true,mirror:true,linecolor:dark,linewidth:p.top?2:1.6,
    tickmode:'array',tickvals:yTicks,ticktext:yTicks.map(String),ticks:showY?'outside':'',ticklen:7,tickwidth:1.2,tickcolor:'#555',showticklabels:showY,tickfont:{size:20,color:gray}};
  const d={x:[],y:[]};p.dots.forEach(c=>{const f=flat(c);d.x.push(...f.x);d.y.push(...f.y);});
  traces.push({type:'scatter',mode:'markers',x:d.x,y:d.y,xaxis:xa,yaxis:ya,hoverinfo:'skip',marker:{size:p.top?2.6:3,color:'#ffff00',symbol:'square',line:{width:0}}});
  traces.push({type:'scatter',mode:'lines',x:p.lx,y:p.ly,xaxis:xa,yaxis:ya,hoverinfo:'skip',connectgaps:false,line:{color:'#ffa500',width:p.lw||3}});
  traces.push({type:'scatter',mode:'lines',x:xRange,y:[threshold,threshold],xaxis:xa,yaxis:ya,hoverinfo:'skip',line:{color:'#111',width:p.dw||1.9,dash:'9px,5px'}});
  if(p.lab!==undefined)layout.annotations.push({xref:'paper',yref:'paper',x:fx(127),y:fy(p.labY),xanchor:'left',yanchor:'middle',showarrow:false,text:siteLabels[p.lab],font:{size:20,color:'#1a1a1a'}});
});
[[247],[530],[820]].forEach((c,i)=>layout.annotations.push({xref:'paper',yref:'paper',x:fx(c[0]),y:fy(20),xanchor:'center',yanchor:'middle',showarrow:false,text:panelNames[i],font:{size:20,color:'#333'}}));
layout.annotations.push({xref:'paper',yref:'paper',x:fx(548),y:fy(1033),xanchor:'center',yanchor:'middle',showarrow:false,text:'Date',font:{size:20,color:'#333'}});
layout.annotations.push({xref:'paper',yref:'paper',x:fx(21),y:fy(528),xanchor:'center',yanchor:'middle',textangle:-90,showarrow:false,text:'Daily light (mol m<sup>-2</sup> d<sup>-1</sup>)',font:{size:19.5,color:'#555'}});
Plotly.newPlot('chart',traces,layout,{displayModeBar:false,staticPlot:true});
</script></body></html>
